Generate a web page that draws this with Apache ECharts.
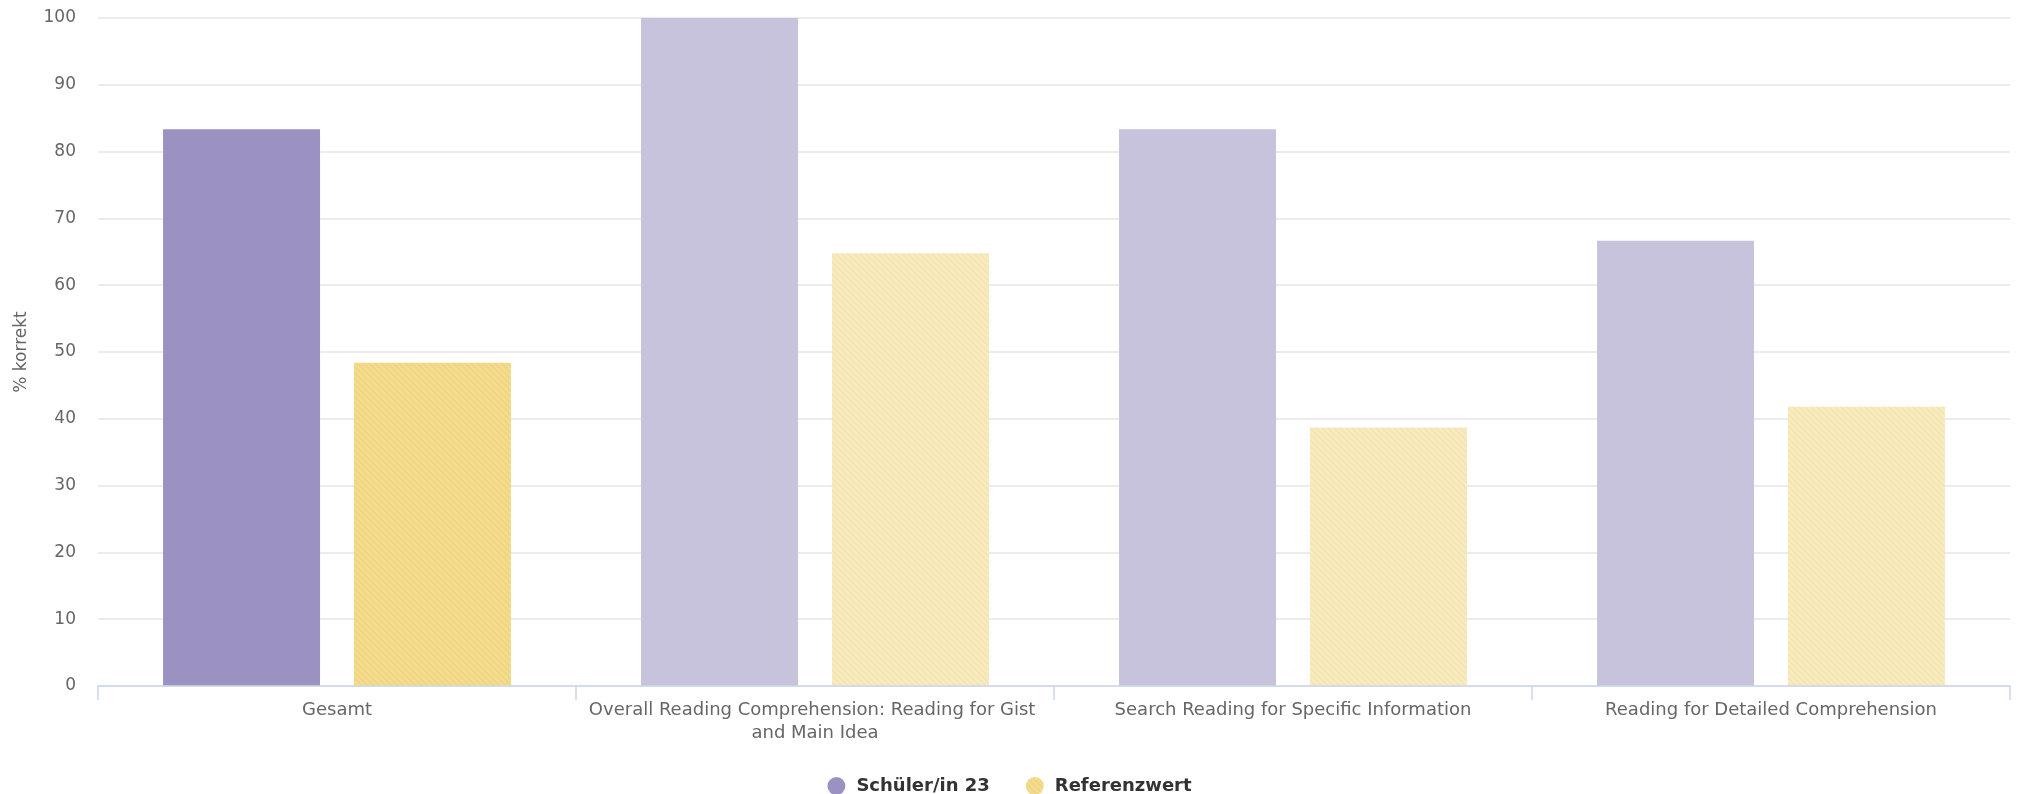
<!DOCTYPE html>
<html>
<head>
<meta charset="utf-8">
<script src="https://cdn.jsdelivr.net/npm/echarts@6/dist/echarts.min.js"></script>
<style>
html,body{margin:0;padding:0;background:#fff;}
#chart{width:2019px;height:794px;}
</style>
</head>
<body>
<div id="chart"></div>
<script>
const categories = [
  "Gesamt",
  "Overall Reading Comprehension: Reading for Gist and Main Idea",
  "Search Reading for Specific Information",
  "Reading for Detailed Comprehension"
];
const studentValues = [83.33, 100, 83.33, 66.67];
const referenceValues = [48.4, 64.8, 38.7, 41.8];
const yTicks = [0, 10, 20, 30, 40, 50, 60, 70, 80, 90, 100];
const seriesNames = ["Schüler/in 23", "Referenzwert"];

function stripePattern(base, stripe) {
  const s = 6;
  const c = document.createElement('canvas');
  c.width = s; c.height = s;
  const ctx = c.getContext('2d');
  ctx.fillStyle = base;
  ctx.fillRect(0, 0, s, s);
  ctx.strokeStyle = stripe;
  ctx.lineWidth = 1.6;
  ctx.beginPath();
  ctx.moveTo(-1, -1); ctx.lineTo(s + 1, s + 1);
  ctx.moveTo(-1, s - 1); ctx.lineTo(1, s + 1);
  ctx.moveTo(s - 1, -1); ctx.lineTo(s + 1, 1);
  ctx.stroke();
  return { image: c, repeat: 'repeat' };
}

const purpleMain = '#9b92c2';
const purpleLight = '#c8c3dc';
const yellowMain = stripePattern('#f3dd8c', '#eed483');
const yellowLight = stripePattern('#f8ebbf', '#f4e4b2');

const chart = echarts.init(document.getElementById('chart'), null, { renderer: 'canvas' });
chart.setOption({
  animation: false,
  backgroundColor: '#ffffff',
  textStyle: { fontFamily: 'DejaVu Sans' },
  grid: { left: 98, right: 9, top: 18, bottom: 108, containLabel: false, outerBoundsMode: 'none' },
  legend: {
    top: 772,
    left: 'center',
    icon: 'circle',
    itemWidth: 18,
    itemHeight: 18,
    itemGap: 36,
    textStyle: { fontFamily: 'DejaVu Sans', fontSize: 18, fontWeight: 'bold', color: '#333333', padding: [0, 0, 0, 6] },
    data: [
      { name: seriesNames[0], itemStyle: { color: purpleMain } },
      { name: seriesNames[1], itemStyle: { color: yellowMain } }
    ]
  },
  xAxis: {
    type: 'category',
    data: categories,
    axisLine: { lineStyle: { color: '#ccd6eb', width: 1.5 } },
    axisTick: { show: true, length: 14, lineStyle: { color: '#ccd6eb', width: 1.5 } },
    axisLabel: {
      color: '#666666', fontSize: 18, margin: 13, interval: 0,
      width: 460, overflow: 'break', lineHeight: 23
    },
    z: 3
  },
  yAxis: {
    type: 'value',
    min: 0, max: 100, interval: 10,
    name: '% korrekt',
    nameLocation: 'middle',
    nameGap: 68,
    nameMoveOverlap: false,
    nameTextStyle: { color: '#666666', fontSize: 17 },
    axisLine: { show: false },
    axisTick: { show: false },
    axisLabel: { color: '#666666', fontSize: 17, margin: 22,
      formatter: v => yTicks.includes(v) ? String(v) : '' },
    splitLine: { lineStyle: { color: '#e6e6e6', width: 1.5 } }
  },
  series: [
    {
      name: seriesNames[0],
      type: 'bar',
      barWidth: 157,
      barGap: '21.6%',
      itemStyle: { color: purpleMain },
      data: studentValues.map((v, i) => ({ value: v, itemStyle: { color: i === 0 ? purpleMain : purpleLight } }))
    },
    {
      name: seriesNames[1],
      type: 'bar',
      barWidth: 157,
      barGap: '21.6%',
      itemStyle: { color: yellowMain },
      data: referenceValues.map((v, i) => ({ value: v, itemStyle: { color: i === 0 ? yellowMain : yellowLight } }))
    }
  ]
});
</script>
</body>
</html>
